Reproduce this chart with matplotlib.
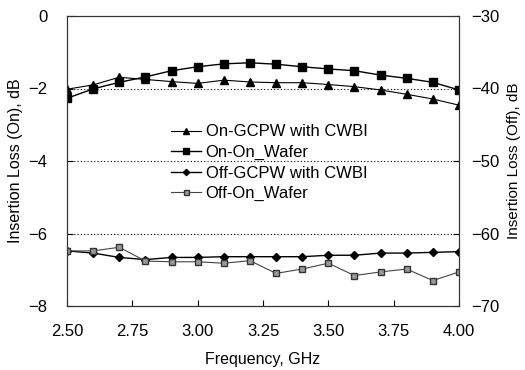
import numpy as np
import matplotlib.pyplot as plt
from matplotlib.ticker import MultipleLocator

plt.rcParams['font.family'] = ['Liberation Sans', 'DejaVu Sans']

freq = [2.5, 2.6, 2.7, 2.8, 2.9, 3.0, 3.1, 3.2, 3.3, 3.4, 3.5, 3.6, 3.7, 3.8, 3.9, 4.0]
on_gcpw = [-2.02, -1.90, -1.69, -1.75, -1.81, -1.86, -1.77, -1.82, -1.84, -1.84,
           -1.89, -1.95, -2.04, -2.16, -2.29, -2.46]
on_wafer = [-2.27, -2.01, -1.83, -1.68, -1.51, -1.40, -1.32, -1.29, -1.33, -1.40,
            -1.46, -1.51, -1.63, -1.72, -1.83, -2.04]
off_gcpw = [-62.4, -62.7, -63.3, -63.6, -63.3, -63.3, -63.2, -63.2, -63.2, -63.2,
            -63.0, -63.0, -62.7, -62.7, -62.6, -62.5]
off_wafer = [-62.4, -62.4, -61.9, -63.8, -63.9, -63.9, -64.1, -63.75, -65.5, -64.9,
             -64.1, -65.8, -65.3, -64.9, -66.5, -65.3]
xtick_vals = [2.50, 2.75, 3.00, 3.25, 3.50, 3.75, 4.00]

fig = plt.figure(figsize=(5.25, 3.7), dpi=100)
ax = fig.add_axes([67/525, 64/370, 392/525, 290/370])
ax2 = ax.twinx()

l1, = ax.plot(freq, on_gcpw, c='black', lw=0.8, marker='^', ms=5.5, label='On-GCPW with CWBI')
l2, = ax.plot(freq, on_wafer, c='black', lw=1.0, marker='s', ms=5.5, label='On-On_Wafer')
l3, = ax2.plot(freq, off_gcpw, c='black', lw=1.0, marker='D', ms=4, label='Off-GCPW with CWBI')
l4, = ax2.plot(freq, off_wafer, c='#444444', lw=0.8, marker='s', ms=4.5,
               mfc='#999999', mec='#333333', label='Off-On_Wafer')

ax.set_xlim(2.5, 4.0)
ax.set_ylim(-8, 0)
ax2.set_ylim(-70, -30)
ax.yaxis.set_major_locator(MultipleLocator(2))
ax2.yaxis.set_major_locator(MultipleLocator(10))
ax.set_xticks(xtick_vals)
ax.set_xticklabels([f'{v:.2f}' for v in xtick_vals])

# dotted grid lines
for v in [-2, -4, -6]:
    ax.axhline(v, color='black', lw=0.8, ls=(0, (1, 2)), zorder=0)

ax.tick_params(axis='x', direction='in', labelsize=12, length=4, pad=13)
ax.tick_params(axis='y', direction='in', labelsize=12, length=4, pad=14)
ax2.tick_params(axis='y', direction='in', labelsize=12, length=4, pad=9)
for a in (ax, ax2):
    for s in a.spines.values():
        s.set_color('#333333')
        s.set_linewidth(0.8)

ax.set_xlabel('Frequency, GHz', fontsize=11.5, labelpad=9)
ax.set_ylabel('Insertion Loss (On), dB', fontsize=11.5, labelpad=4)
ax2.set_ylabel('Insertion Loss (Off), dB', fontsize=11, labelpad=5)

ax.legend(handles=[l1, l2, l3, l4], loc='upper left', bbox_to_anchor=(0.245, 0.655),
          frameon=False, fontsize=12, handlelength=1.8, handletextpad=0.25,
          labelspacing=0.33, borderpad=0, markerscale=0.8)

plt.savefig('out.png', dpi=100)
